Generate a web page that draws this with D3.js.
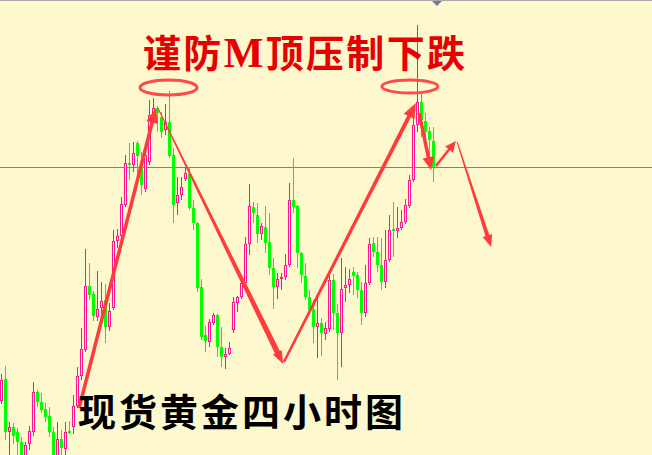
<!DOCTYPE html>
<html><head><meta charset="utf-8">
<script src="https://cdn.jsdelivr.net/npm/d3@7"></script>
<style>html,body{margin:0;padding:0;background:#fdf8cd;overflow:hidden}</style>
</head><body>
<svg id="chart" width="652" height="455"></svg>
<script>
// ---- data: XAUUSD 4H candles (price units) ----
const opens = [1259.8,1264.2,1253.6,1254.6,1253.6,1251.6,1248.4,1251.2,1253.6,1261.6,
 1259.6,1258.2,1256.8,1253.6,1248.4,1252.2,1250.2,1253.8,1254.6,1258.8,
 1264.8,1270.0,1282.8,1281.2,1276.6,1278.4,1280.0,1274.6,1278.4,1291.8,
 1292.8,1299.0,1307.4,1307.0,1311.4,1307.2,1302.2,1307.6,1317.0,1318.4,
 1316.6,1314.0,1315.6,1309.0,1299.4,1301.0,1304.2,1305.2,1298.4,1295.4,
 1282.6,1273.0,1271.6,1275.4,1277.0,1270.6,1268.6,1269.2,1274.0,1279.4,
 1280.6,1283.4,1291.2,1298.6,1297.0,1293.2,1294.6,1291.6,1286.4,1282.6,
 1284.2,1284.6,1287.0,1300.0,1298.8,1289.4,1284.8,1280.6,1278.2,1274.6,
 1275.4,1273.2,1274.2,1284.0,1277.4,1273.4,1282.4,1283.0,1285.6,1285.0,
 1282.0,1277.4,1283.4,1291.4,1289.6,1287.0,1283.6,1288.0,1294.2,1293.8,
 1294.4,1295.6,1298.8,1304.0,1315.0,1319.6,1315.8,1313.8,1311.8];
const closes = [1264.0,1253.6,1254.6,1252.8,1251.6,1248.4,1251.0,1253.8,1261.6,1259.6,
 1258.0,1256.6,1253.6,1248.4,1252.2,1250.4,1253.6,1253.4,1258.8,1264.8,
 1270.2,1282.8,1281.0,1276.8,1278.2,1279.8,1274.6,1277.8,1291.8,1292.8,
 1299.2,1307.4,1307.0,1309.4,1308.8,1303.0,1309.0,1317.0,1318.4,1317.4,
 1313.6,1315.6,1308.8,1299.0,1301.0,1302.6,1305.4,1298.4,1295.4,1282.4,
 1272.6,1271.8,1275.6,1277.0,1270.6,1268.6,1269.2,1270.4,1279.6,1280.6,
 1283.4,1291.2,1298.8,1297.4,1293.2,1294.8,1291.4,1286.4,1282.6,1284.2,
 1284.6,1287.0,1300.0,1298.6,1289.4,1285.0,1280.6,1278.0,1274.6,1275.4,
 1273.4,1274.4,1284.0,1277.4,1273.4,1282.2,1283.0,1284.2,1284.8,1282.0,
 1277.4,1283.4,1291.2,1289.6,1287.0,1283.6,1288.0,1294.0,1293.8,1294.4,
 1295.6,1299.0,1304.0,1315.0,1319.6,1316.0,1313.6,1312.0,1306.6];
const highs = [1265.2,1266.8,1255.6,1255.4,1254.4,1252.6,1251.6,1254.8,1263.6,1262.0,
 1261.4,1259.4,1258.6,1254.6,1255.6,1254.0,1255.6,1255.8,1261.0,1266.6,
 1274.4,1290.2,1287.4,1281.8,1285.8,1283.6,1283.2,1279.4,1294.0,1294.2,
 1300.6,1309.0,1311.4,1311.6,1311.8,1309.6,1310.4,1320.0,1320.4,1318.8,
 1317.6,1319.2,1321.8,1310.4,1304.6,1304.6,1306.6,1306.6,1300.0,1295.6,
 1284.2,1274.8,1276.2,1277.4,1277.2,1274.6,1270.4,1271.6,1280.6,1280.8,
 1284.6,1292.6,1303.2,1299.6,1299.4,1295.4,1298.8,1297.4,1288.4,1285.4,
 1285.4,1289.2,1303.4,1308.4,1299.0,1289.6,1287.4,1282.0,1280.0,1280.4,
 1276.4,1275.6,1285.2,1285.2,1279.2,1288.4,1286.6,1286.2,1286.6,1285.6,
 1283.6,1287.0,1292.4,1292.6,1292.6,1292.4,1294.0,1297.0,1299.6,1298.6,
 1298.0,1300.2,1305.0,1318.6,1335.0,1321.4,1317.4,1314.6,1314.6];
const lows = [1259.2,1252.0,1248.0,1251.2,1248.0,1247.6,1247.6,1250.0,1252.8,1258.6,
 1257.4,1255.6,1252.6,1247.6,1247.6,1248.4,1249.0,1253.2,1253.2,1258.4,
 1264.0,1269.6,1280.0,1275.8,1275.8,1277.2,1271.4,1273.8,1278.0,1290.4,
 1292.4,1298.6,1304.0,1305.6,1303.8,1301.0,1301.6,1307.0,1316.4,1313.6,
 1312.4,1313.0,1308.4,1295.4,1297.0,1300.0,1303.8,1298.0,1294.0,1281.6,
 1272.0,1269.6,1270.6,1275.0,1268.6,1266.6,1266.2,1269.0,1273.4,1277.6,
 1280.2,1283.0,1289.0,1295.4,1291.4,1292.0,1289.4,1285.0,1278.2,1280.2,
 1282.0,1284.0,1286.6,1297.4,1286.4,1283.4,1280.0,1277.4,1271.4,1268.4,
 1268.8,1272.0,1273.6,1274.0,1264.0,1266.6,1279.6,1281.4,1281.0,1280.4,
 1275.0,1276.6,1283.0,1288.6,1285.6,1282.0,1282.4,1287.6,1288.6,1292.4,
 1294.0,1295.2,1298.4,1303.6,1313.6,1312.6,1310.6,1307.4,1303.6];
const bidPrice = 1306.6;
const titleText = ["谨防", "M", "顶压制下跌"];
const footText = "现货黄金四小时图";

// ---- annotations anchored in (bar index, price) ----
const arrows = [
  {from:[19.4,1258.4], to:[38.6,1318.4], w0:3.5, w1:3.5, head:15, half:6},
  {from:[39.1,1318.4], to:[70.4,1267.2], w0:1,   w1:5.5, head:13, half:5},
  {from:[70.6,1267.6], to:[103.6,1319.4], w0:2.5, w1:4,  head:15, half:6},
  {from:[104.4,1317.4], to:[107.4,1306.0], w0:3.5, w1:3.5, head:13, half:6},
  {from:[108.6,1306.8], to:[113.6,1311.8], w0:2.5, w1:2.5, head:11, half:5},
  {from:[113.9,1311.6], to:[122.4,1290.6], w0:1,   w1:4, head:12, half:5}
];
const ellipses = [
  {c:[41.75,1322.5], rx:28.5, ry:7.5},
  {c:[102.1,1322.7], rx:28,   ry:6.5}
];

const W = 652, H = 455;
const svg = d3.select("#chart");
const idx = d3.range(opens.length);
const x = d3.scaleLinear().domain([0, 108]).range([1.5, 433.5]);
const y = d3.scaleLinear().domain([1249, 1340]).range([H, 0]);

svg.append("rect").attr("width", W).attr("height", H).attr("fill", "#fdf8cd");

// bid line
const by = Math.round(y(bidPrice)) + 0.5;
svg.append("line").attr("x1", 0).attr("x2", W).attr("y1", by).attr("y2", by)
  .attr("stroke", "#808080").attr("stroke-width", 1);

// candles
const g = svg.append("g").attr("shape-rendering", "crispEdges");
const up = i => closes[i] >= opens[i];
g.selectAll("line.wick").data(idx).join("line")
  .attr("class", "wick")
  .attr("x1", i => x(i)).attr("x2", i => x(i))
  .attr("y1", i => y(highs[i])).attr("y2", i => y(lows[i]))
  .attr("stroke", i => up(i) ? "#ff1493" : "#00ff00").attr("stroke-width", 1);
g.selectAll("rect.body").data(idx).join("rect")
  .attr("class", "body")
  .each(function(i) {
    const s = d3.select(this);
    const yo = Math.round(y(opens[i])), yc = Math.round(y(closes[i]));
    if (up(i)) {
      s.attr("x", x(i) - 1).attr("width", 2)
       .attr("y", yc + 0.5).attr("height", Math.max(0, yo - yc - 1))
       .attr("fill", "#fdf8cd").attr("stroke", "#ff1493").attr("stroke-width", 1);
    } else {
      s.attr("x", x(i) - 1.5).attr("width", 3)
       .attr("y", yo).attr("height", Math.max(1, yc - yo))
       .attr("fill", "#00ff00");
    }
  });

// top border & shift marker
svg.append("line").attr("x1", 0).attr("x2", W).attr("y1", 0.5).attr("y2", 0.5)
  .attr("stroke", "#a8a8a8");
svg.append("path").attr("d", "M432,1L442,1L437,6Z").attr("fill", "#6f7d8c");

// arrows
const ax = d => [x(d[0]), y(d[1])];
arrows.forEach(a => {
  const [x0, y0] = ax(a.from), [x1, y1] = ax(a.to);
  const dx = x1 - x0, dy = y1 - y0, L = Math.hypot(dx, dy);
  const ux = dx / L, uy = dy / L, nx = -uy, ny = ux;
  const bx = x1 - ux * a.head, byy = y1 - uy * a.head;
  const pts = [
    [x0 + nx * a.w0 / 2, y0 + ny * a.w0 / 2],
    [bx + nx * a.w1 / 2, byy + ny * a.w1 / 2],
    [bx + nx * a.half, byy + ny * a.half],
    [x1, y1],
    [bx - nx * a.half, byy - ny * a.half],
    [bx - nx * a.w1 / 2, byy - ny * a.w1 / 2],
    [x0 - nx * a.w0 / 2, y0 - ny * a.w0 / 2]
  ];
  svg.append("path").attr("d", d3.line()(pts) + "Z").attr("fill", "#ff3b3b");
});

// ellipses
ellipses.forEach(e => {
  const [cx, cy] = ax(e.c);
  svg.append("ellipse").attr("cx", cx).attr("cy", cy).attr("rx", e.rx).attr("ry", e.ry)
    .attr("fill", "none").attr("stroke", "#ff4a4a").attr("stroke-width", 3);
});

// title
const t = svg.append("text").attr("x", 143).attr("y", 67)
  .attr("fill", "#e80000").attr("font-size", 38).attr("font-weight", "bold")
  .attr("font-family", "'Noto Sans CJK SC', sans-serif")
  .attr("textLength", 322).attr("lengthAdjust", "spacing");
t.append("tspan").text(titleText[0]);
t.append("tspan").attr("font-family", "'Liberation Serif', serif").attr("font-size", 42).text(titleText[1]);
t.append("tspan").text(titleText[2]);

svg.append("text").attr("x", 78).attr("y", 426)
  .attr("fill", "#000").attr("font-size", 38).attr("font-weight", "bold")
  .attr("font-family", "'Noto Sans CJK SC', sans-serif")
  .attr("textLength", 325).attr("lengthAdjust", "spacing")
  .text(footText);
</script>
</body></html>
